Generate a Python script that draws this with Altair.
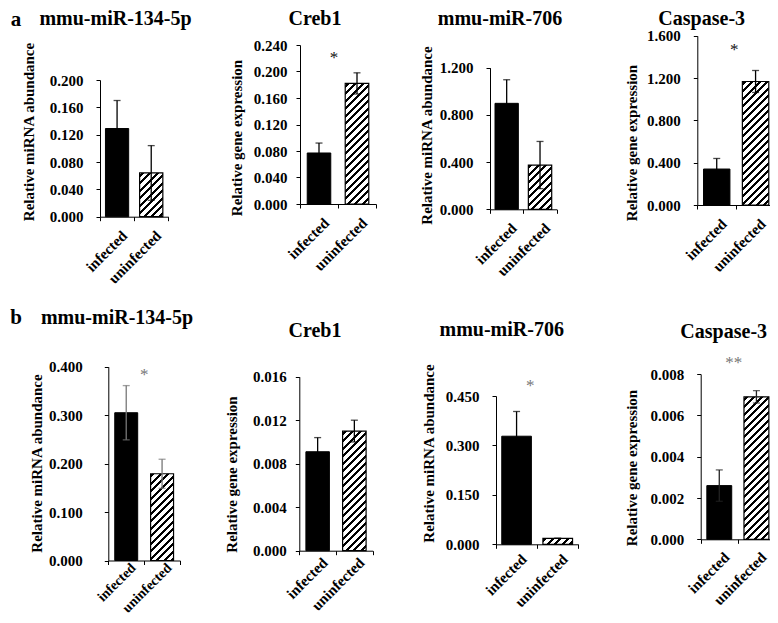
import altair as alt
import pandas as pd

M = 8            # page margin
W, H = 762, 607  # whole drawing area

FONT = "Liberation Serif"

categories = ["infected", "uninfected"]
row_labels = ["a", "b"]
titles = ["mmu-miR-134-5p", "Creb1", "mmu-miR-706", "Caspase-3",
          "mmu-miR-134-5p", "Creb1", "mmu-miR-706", "Caspase-3"]
ytitles = ["Relative miRNA abundance", "Relative gene expression",
           "Relative miRNA abundance", "Relative gene expression",
           "Relative miRNA abundance", "Relative gene expression",
           "Relative miRNA abundance", "Relative gene expression"]
means = [[0.129, 0.064], [0.077, 0.182], [0.898, 0.375], [0.340, 1.168],
         [0.305, 0.179], [0.0091, 0.0110], [0.328, 0.018], [0.0026, 0.0069]]
errs = [[0.041, 0.040], [0.015, 0.016], [0.200, 0.200], [0.100, 0.104],
        [0.056, 0.030], [0.0013, 0.0010], [0.075, 0.0], [0.00076, 0.0003]]
ymax = [0.2, 0.24, 1.2, 1.6, 0.4, 0.016, 0.45, 0.008]
yticks = [[0, 0.04, 0.08, 0.12, 0.16, 0.2],
          [0, 0.04, 0.08, 0.12, 0.16, 0.2, 0.24],
          [0, 0.4, 0.8, 1.2],
          [0, 0.4, 0.8, 1.2, 1.6],
          [0, 0.1, 0.2, 0.3, 0.4],
          [0, 0.004, 0.008, 0.012, 0.016],
          [0, 0.15, 0.3, 0.45],
          [0, 0.002, 0.004, 0.006, 0.008]]
stars = ["", "*", "", "*", "*", "", "*", "**"]
star_level = [0, 0.225, 0, 1.497, 0.39, 0, 0.49, 0.00868]

# layout of each panel in page pixels (positions / styles only)
layout = [
    dict(x0=100, x1=168.3, yb=216.7, yt=80, frac=0.68, lp=13, xlp=12, xfs=15, tx=115.5, ty=19, ytx=28, yty=131.5, err="#000", sc="#111", sdx=0),
    dict(x0=300, x1=376, yb=204, yt=45, frac=0.62, lp=9, xlp=12, xfs=15, tx=315, ty=19, ytx=236.7, yty=137.5, err="#000", sc="#111", sdx=-4),
    dict(x0=490, x1=556.7, yb=209.3, yt=67.7, frac=0.70, lp=13, xlp=12, xfs=15, tx=500, ty=19, ytx=426.7, yty=135, err="#000", sc="#111", sdx=0),
    dict(x0=697.3, x1=775, yb=205, yt=35.8, frac=0.68, lp=13, xlp=12, xfs=15, tx=701.7, ty=19, ytx=631.7, yty=142.5, err="#000", sc="#111", sdx=-2),
    dict(x0=108.3, x1=180, yb=560.5, yt=366.7, frac=0.64, lp=22, xlp=1, xfs=14, tx=117, ty=318, ytx=36.7, yty=463, err="#777", sc="#777", sdx=0),
    dict(x0=299.3, x1=372.7, yb=550.7, yt=376.7, frac=0.64, lp=9, xlp=5, xfs=15, tx=315, ty=331, ytx=231.7, yty=474, err="#000", sc="#777", sdx=0),
    dict(x0=496, x1=578.3, yb=544.3, yt=396, frac=0.72, lp=13, xlp=8, xfs=15, tx=501.7, ty=330, ytx=428.3, yty=453, err="#000", sc="#777", sdx=-7),
    dict(x0=700.7, x1=775, yb=539.3, yt=374.1, frac=0.67, lp=13, xlp=11, xfs=15, tx=723.7, ty=331.7, ytx=631.7, yty=467.5, err="#222", sc="#777", sdx=-4),
]
row_label_pos = [(16, 20), (16, 318)]


def hatch(w, h, period=7.5, thick=3.0):
    L = w + h
    stops = [{"offset": 0, "color": "white"}]
    c = 1.5
    while c < L:
        e = min(c + thick, L)
        stops += [{"offset": round(c / L, 5), "color": "white"},
                  {"offset": round(c / L, 5), "color": "black"},
                  {"offset": round(e / L, 5), "color": "black"},
                  {"offset": round(e / L, 5), "color": "white"}]
        c += period
    stops.append({"offset": 1, "color": "white"})
    k = (w + h) / (w * w + h * h)
    return {"gradient": "linear", "x1": 0, "y1": 0,
            "x2": round(k * w, 5), "y2": round(k * h, 5), "stops": stops}


def panel(i):
    Lp = layout[i]
    x0, x1 = Lp["x0"] - M, Lp["x1"] - M
    yb, yt = Lp["yb"] - M, Lp["yt"] - M
    df = pd.DataFrame({
        "cat": categories,
        "value": means[i],
        "lo": [max(m - e, 0) for m, e in zip(means[i], errs[i])],
        "hi": [m + e for m, e in zip(means[i], errs[i])],
    })
    xs = alt.Scale(domain=categories, range=[x0, x1], paddingInner=0, paddingOuter=0)
    ys = alt.Scale(domain=[0, ymax[i]], range=[yb, yt], nice=False, zero=True)
    xaxis = alt.Axis(title=None, orient="bottom", offset=yb - H, labelAngle=-45,
                     labelAlign="right", labelBaseline="middle", labelPadding=Lp["xlp"],
                     labelFontSize=Lp["xfs"],
                     labelOffset=7, tickBand="extent", labelOverlap=False, tickSize=4)
    yaxis = alt.Axis(title=ytitles[i], orient="left", offset=-x0, values=yticks[i],
                     format=".3f", labelPadding=Lp["lp"], tickSize=4,
                     titleX=Lp["ytx"] - M - x0, titleY=Lp["yty"] - M,
                     titleAngle=-90, titleAlign="center", titleBaseline="middle",
                     labelOverlap=False)

    def X(**kw):
        return alt.X("cat:N", scale=xs, axis=xaxis, sort=categories, **kw)

    def Y(f):
        return alt.Y(f, scale=ys, axis=yaxis)

    band = (x1 - x0) / 2
    w = band * Lp["frac"]
    h = means[i][1] / ymax[i] * (yb - yt)

    base = alt.Chart(df)
    inf_bar = base.transform_filter(alt.datum.cat == categories[0]).mark_bar(
        width={"band": Lp["frac"]}, fill="black", stroke="black", strokeWidth=1
    ).encode(x=X(), y=Y("value:Q"))
    uninf_bar = base.transform_filter(alt.datum.cat == categories[1]).mark_bar(
        width={"band": Lp["frac"]}, fill=hatch(w, h), stroke="black", strokeWidth=1.2
    ).encode(x=X(), y=Y("value:Q"))
    rule = base.mark_rule(color=Lp["err"], strokeWidth=1.3).encode(
        x=X(), y=Y("lo:Q"), y2="hi:Q")
    cap_hi = base.mark_tick(color=Lp["err"], size=7, thickness=1.3).encode(x=X(), y=Y("hi:Q"))
    cap_lo = base.mark_tick(color=Lp["err"], size=7, thickness=1.3).encode(x=X(), y=Y("lo:Q"))
    layers = [inf_bar, uninf_bar, rule, cap_hi, cap_lo]
    if stars[i]:
        sdf = pd.DataFrame({"cat": [categories[1]], "level": [star_level[i]], "s": [stars[i]]})
        layers.append(alt.Chart(sdf).mark_text(
            font=FONT, fontSize=17, color=Lp["sc"], dx=Lp["sdx"], dy=3, baseline="middle"
        ).encode(x=X(bandPosition=0), y=Y("level:Q"), text="s:N"))
    tdf = pd.DataFrame({"t": [titles[i]]})
    layers.append(alt.Chart(tdf).mark_text(
        font=FONT, fontSize=20, fontWeight="bold", color="black", baseline="middle", align="center"
    ).encode(x=alt.value(Lp["tx"] - M), y=alt.value(Lp["ty"] - M), text="t:N"))
    return alt.layer(*layers)


panels = [panel(i) for i in range(8)]
for r, lab in enumerate(row_labels):
    ldf = pd.DataFrame({"t": [lab]})
    px, py = row_label_pos[r]
    panels.append(alt.Chart(ldf).mark_text(
        font=FONT, fontSize=21, fontWeight="bold", color="black", baseline="middle", align="center"
    ).encode(x=alt.value(px - M), y=alt.value(py - M), text="t:N"))

chart = alt.layer(*panels).resolve_scale(x="independent", y="independent").properties(
    width=W, height=H, padding=0, background="white",
    autosize=alt.AutoSizeParams(type="none")
).configure_view(stroke=None).configure_axis(
    grid=False, domainColor="black", tickColor="black", domainWidth=1, tickWidth=1,
    labelFont=FONT, labelFontWeight="bold", labelFontSize=15, labelColor="black",
    titleFont=FONT, titleFontWeight="bold", titleFontSize=15, titleColor="black"
)

chart.save("out.html", embed_options={"renderer": "svg", "actions": False})
